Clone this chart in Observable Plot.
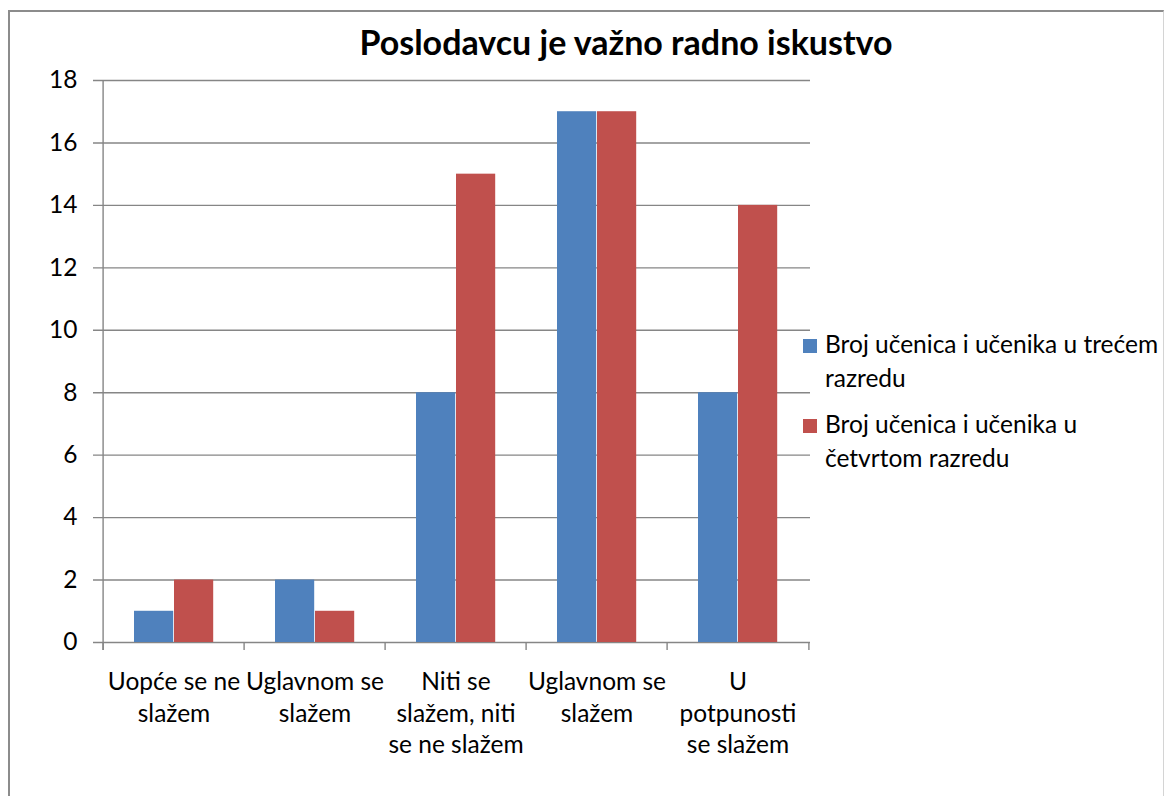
<!DOCTYPE html>
<html><head><meta charset="utf-8">
<script src="https://cdn.jsdelivr.net/npm/d3@7"></script>
<script src="https://cdn.jsdelivr.net/npm/@observablehq/plot@0.6"></script>
<style>
body{margin:0;background:#fff;}
#wrap{position:relative;width:1165px;height:796px;overflow:hidden;font-family:Lato,sans-serif;color:#000;}
#border{position:absolute;left:8px;top:10px;width:1156px;height:820px;border-left:2px solid #8c8c8c;border-top:2px solid #8c8c8c;border-right:1px solid #d4d4d4;box-sizing:border-box;}
#chart{position:absolute;left:0;top:0;}
#title{position:absolute;top:22px;left:0;width:1252px;text-align:center;font-weight:bold;font-size:34px;line-height:40px;}
#legend{position:absolute;left:803px;top:326.5px;font-size:24.5px;}
.item{position:relative;padding-left:22px;line-height:34px;white-space:pre;margin-bottom:12px;}
.sw{position:absolute;left:0;top:12.5px;width:14px;height:14px;}
</style></head>
<body>
<div id="wrap">
<div id="border"></div>
<div id="chart"></div>
<div id="title"></div>
<div id="legend"></div>
</div>
<script>
const title = "Poslodavcu je važno radno iskustvo";
const categories = ["Uopće se ne\nslažem", "Uglavnom se\nslažem", "Niti se\nslažem, niti\nse ne slažem", "Uglavnom se\nslažem", "U\npotpunosti\nse slažem"];
const seriesNames = ["Broj učenica i učenika u trećem razredu", "Broj učenica i učenika u četvrtom razredu"];
const legendLabels = ["Broj učenica i učenika u trećem\nrazredu", "Broj učenica i učenika u\nčetvrtom razredu"];
const treci = [1, 2, 8, 17, 8];
const cetvrti = [2, 1, 15, 17, 14];
const yTicks = [0, 2, 4, 6, 8, 10, 12, 14, 16, 18];
const colors = ["#4F81BD", "#C0504D"];

const rows = [];
categories.forEach((c, i) => {
  rows.push({i, series: seriesNames[0], value: treci[i]});
  rows.push({i, series: seriesNames[1], value: cetvrti[i]});
});

const W = 1165, H = 796, mL = 101, mT = 80, mR = 355, mB = 154;
const idx = d3.range(categories.length);
const bw = (W - mL - mR) / categories.length;
const barW = 40, gap = 31;
const grid = "#868686";

const chart = Plot.plot({
  width: W, height: H,
  marginLeft: mL, marginTop: mT, marginRight: mR, marginBottom: mB,
  style: {fontFamily: "Lato, sans-serif", fontSize: "24.5px", color: "#000", background: "transparent", overflow: "visible"},
  x: {type: "band", domain: idx, padding: 0, axis: null},
  y: {domain: [0, 18], axis: null},
  marks: [
    Plot.ruleY(yTicks, {y: d => d, stroke: grid, strokeWidth: 1.4, insetLeft: -8}),
    Plot.barY(rows.filter(r => r.series === seriesNames[0]), {x: "i", y: "value", fill: colors[0], insetLeft: gap, insetRight: bw - gap - barW}),
    Plot.barY(rows.filter(r => r.series === seriesNames[1]), {x: "i", y: "value", fill: colors[1], insetLeft: gap + barW, insetRight: bw - gap - 2 * barW}),
    Plot.ruleX(idx, {x: d => d, dx: -bw / 2, stroke: grid, strokeWidth: 1.4, insetTop: H - mT - mB, insetBottom: -8}),
    Plot.ruleX([idx[idx.length - 1]], {x: d => d, dx: bw / 2, stroke: grid, strokeWidth: 1.4, insetTop: H - mT - mB, insetBottom: -8}),
    Plot.ruleX([idx[0]], {x: d => d, dx: -bw / 2, stroke: grid, strokeWidth: 1.4, insetBottom: -8}),
    Plot.text(yTicks, {y: d => d, text: d => String(d), frameAnchor: "left", dx: -24, textAnchor: "end", lineAnchor: "middle", fill: "#000"}),
    Plot.text(idx, {x: d => d, text: i => categories[i], frameAnchor: "bottom", lineAnchor: "top", dy: 25.6, lineHeight: 1.286, fill: "#000"})
  ]
});
document.getElementById("chart").appendChild(chart);
document.getElementById("title").textContent = title;
const leg = document.getElementById("legend");
legendLabels.forEach((l, k) => {
  const it = document.createElement("div");
  it.className = "item";
  const sw = document.createElement("span");
  sw.className = "sw";
  sw.style.background = colors[k];
  it.appendChild(sw);
  it.appendChild(document.createTextNode(l));
  leg.appendChild(it);
});
</script>
</body></html>
